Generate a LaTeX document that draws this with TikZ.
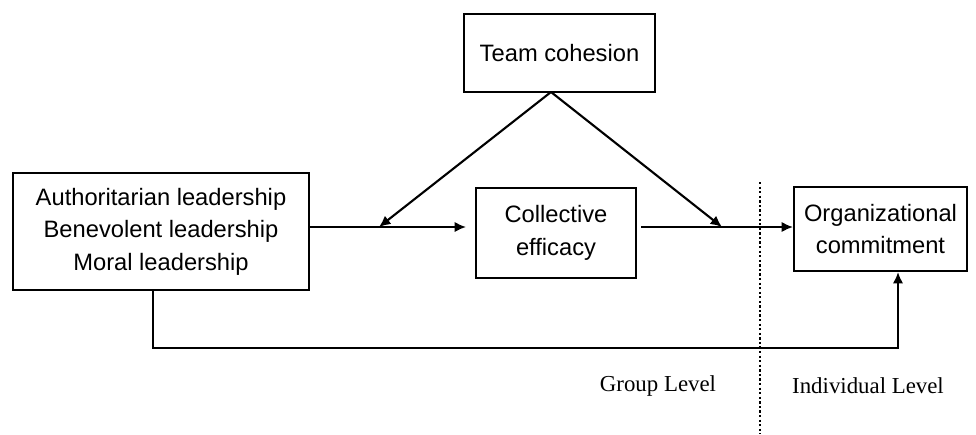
\documentclass[tikz,border=0pt]{standalone}
\usepackage{fontspec}
\setmainfont{Liberation Serif}
\setsansfont{Liberation Sans}
\usetikzlibrary{arrows.meta}

\begin{document}
\begin{tikzpicture}[x=0.02cm, y=-0.02cm, line width=1.2pt,
    box/.style={draw, rectangle, align=center, inner sep=2pt,
      font=\sffamily\fontsize{13.5}{18.5}\selectfont},
    post/.style={-{Latex[length=6.5pt,width=6pt]}},
    level/.style={font=\rmfamily\fontsize{13}{15}\selectfont}]

   \useasboundingbox (0,0) rectangle (976,434);

   % boxes
   \foreach \x/\y/\w/\h/\n/\t in {
       161/231.5/5.92/2.34/lead/{Authoritarian leadership\\Benevolent leadership\\Moral leadership},
       559.5/53/3.82/1.56/team/{Team cohesion},
       556/233/3.2/1.8/eff/{Collective\\efficacy},
       880.5/229/3.46/1.68/org/{Organizational\\commitment}}
     \node [box, minimum width=\w cm, minimum height=\h cm]
        (\n) at (\x,\y) {\t};

   % junction points
   \coordinate (apex) at (551,92);
   \coordinate (m1) at (379,227);
   \coordinate (m2) at (722,227);
   \coordinate (effin) at (466,227);
   \coordinate (effout) at (641,227);
   \coordinate (b1) at (153,348);
   \coordinate (b2) at (898,348);

   \draw[post] (lead.east |- m1) -- (effin);
   \draw[post] (effout) -- (org.west |- m2);
   \draw[post] (apex) -- (m1);
   \draw[post] (apex) -- (m2);
   \draw[post] (lead.south -| b1) -- (b1) -- (b2) -- (org.south -| b2);

   % level divider
   \coordinate (d1) at (760,182);
   \coordinate (d2) at (760,434);
   \draw[line width=1.3pt, dash pattern=on 1.3pt off 1.3pt] (d1) -- (d2);

   \node [level] (grp) at (658,386) {Group Level};
   \node [level] (ind) at (868,386) {Individual Level};

\end{tikzpicture}
\end{document}
